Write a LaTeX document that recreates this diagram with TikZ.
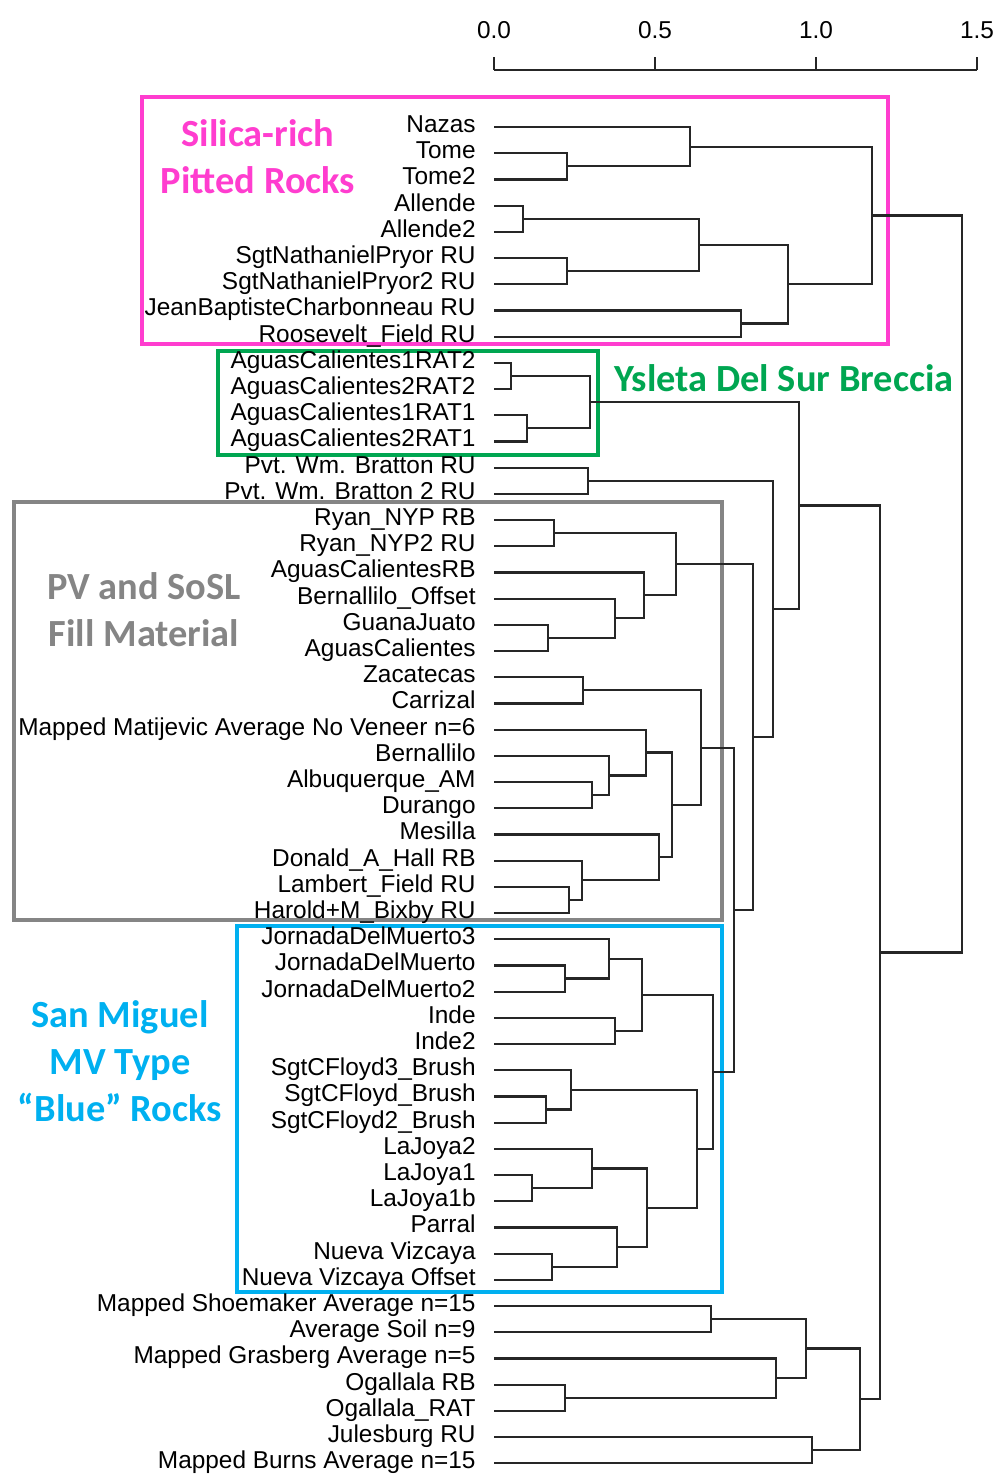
\documentclass[tikz,border=0pt]{standalone}
\usepackage{fontspec}
\setmainfont{Liberation Sans}
\newfontfamily\groupfont{Carlito}
\usetikzlibrary{calc}
\definecolor{silica}{HTML}{FF3DCF}
\definecolor{breccia}{HTML}{00A651}
\definecolor{fillgray}{HTML}{858585}
\definecolor{bluerock}{HTML}{00B0F0}
\tikzset{
    %leaf labels and axis numbers
    leaf/.style={anchor=base east, inner sep=0pt, font=\fontsize{12.2}{14}\selectfont},
    ticklab/.style={anchor=base, inner sep=0pt, font=\fontsize{12.2}{14}\selectfont},
    % tree lines
    branch/.style={draw=black!85, line width=1.1pt},
    % coloured group frames
    groupbox/.style={line width=2.2pt},
    grouplabel/.style={font=\groupfont\bfseries\fontsize{19.2}{23.5}\selectfont, align=center, inner sep=0pt}
}
% merge two children at height #2 (px)
\newcommand{\joinat}[4]{%
  \path let \p1=(#3), \p2=(#4) in ({#2*0.5pt},{0.5*\y1+0.5*\y2}) coordinate (#1);
  \draw[branch] (#3) -| (#1) |- (#4);
}

\begin{document}
\begin{tikzpicture}[x=0.5pt, y=-0.5pt]
\useasboundingbox (0,0) rectangle (998,1474);

% group frames
\draw[groupbox, draw=silica] (142,97) rectangle (888,344);
\draw[groupbox, draw=breccia] (218,351) rectangle (598,455);
\draw[groupbox, draw=fillgray] (14,502) rectangle (722,920);
\draw[groupbox, draw=bluerock] (237,926) rectangle (722,1292);

\node[grouplabel, text=silica] (g1) at (258,157) {Silica-rich\\Pitted Rocks};
\node[grouplabel, text=breccia] (g2) at (784,378) {Ysleta Del Sur Breccia};
\node[grouplabel, text=fillgray] (g3) at (144,610) {PV and SoSL\\Fill Material};
\node[grouplabel, text=bluerock] (g4) at (120,1061) {San Miguel\\MV Type\\“Blue” Rocks};

% axis
\draw[branch] (494,70) -- (977,70);
\foreach \v [count=\k from 0] in {0.0,0.5,1.0,1.5} {
  \node[ticklab] (v\k) at ({494+161*\k},38) {\v};
  \draw[branch] ({494+161*\k},57) -- ({494+161*\k},70);
}

% leaves
\foreach \name [count=\i] in {Nazas, Tome, Tome2, Allende, Allende2,
  SgtNathanielPryor RU, SgtNathanielPryor2 RU, JeanBaptisteCharbonneau RU,
  Roosevelt\_Field RU, AguasCalientes1RAT2, AguasCalientes2RAT2,
  AguasCalientes1RAT1, AguasCalientes2RAT1, Pvt. Wm. Bratton RU,
  Pvt. Wm. Bratton 2 RU, Ryan\_NYP RB, Ryan\_NYP2 RU, AguasCalientesRB,
  Bernallilo\_Offset, GuanaJuato, AguasCalientes, Zacatecas, Carrizal,
  Mapped Matijevic Average No Veneer n=6, Bernallilo, Albuquerque\_AM,
  Durango, Mesilla, Donald\_A\_Hall RB, Lambert\_Field RU,
  Harold+M\_Bixby RU, JornadaDelMuerto3, JornadaDelMuerto,
  JornadaDelMuerto2, Inde, Inde2, SgtCFloyd3\_Brush, SgtCFloyd\_Brush,
  SgtCFloyd2\_Brush, LaJoya2, LaJoya1, LaJoya1b, Parral, Nueva Vizcaya,
  Nueva Vizcaya Offset, Mapped Shoemaker Average n=15, Average Soil n=9,
  Mapped Grasberg Average n=5, Ogallala RB, Ogallala\_RAT, Julesburg RU,
  Mapped Burns Average n=15} {
  \coordinate (l\i) at (494,{127+26.2*(\i-1)});
  \node[leaf] (t\i) at (476,{132.5+26.2*(\i-1)}) {\name};
}

% silica-rich group
\joinat{tt}{567}{l2}{l3}
\joinat{naz}{690}{l1}{tt}
\joinat{all}{522.7}{l4}{l5}
\joinat{sgp}{567}{l6}{l7}
\joinat{alsg}{699}{all}{sgp}
\joinat{jr}{740.7}{l8}{l9}
\joinat{alj}{788}{alsg}{jr}
\joinat{silica}{872.3}{naz}{alj}
% ysleta and bratton
\joinat{rat2}{510.7}{l10}{l11}
\joinat{rat1}{527.3}{l12}{l13}
\joinat{ysleta}{590}{rat2}{rat1}
\joinat{brat}{587.7}{l14}{l15}
% fill material
\joinat{ryan}{554}{l16}{l17}
\joinat{gac}{548.3}{l20}{l21}
\joinat{boff}{615}{l19}{gac}
\joinat{acrb}{644}{l18}{boff}
\joinat{ryac}{675.7}{ryan}{acrb}
\joinat{zac}{583.3}{l22}{l23}
\joinat{ad}{591.7}{l26}{l27}
\joinat{bern}{609.3}{l25}{ad}
\joinat{mat}{646}{l24}{bern}
\joinat{lh}{569.3}{l30}{l31}
\joinat{don}{581.7}{l29}{lh}
\joinat{mes}{659}{l28}{don}
\joinat{matmes}{671.7}{mat}{mes}
\joinat{zacmat}{700.7}{zac}{matmes}
% san miguel
\joinat{jj}{565}{l33}{l34}
\joinat{jor}{609}{l32}{jj}
\joinat{inde}{615}{l35}{l36}
\joinat{jorin}{642.3}{jor}{inde}
\joinat{fl}{546}{l38}{l39}
\joinat{floyd}{571}{l37}{fl}
\joinat{lj}{531.7}{l41}{l42}
\joinat{joya}{592.3}{l40}{lj}
\joinat{nv}{552.3}{l44}{l45}
\joinat{parral}{617.3}{l43}{nv}
\joinat{joypar}{646.7}{joya}{parral}
\joinat{flpar}{696.7}{floyd}{joypar}
\joinat{miguel}{713.3}{jorin}{flpar}
% upper joins
\joinat{fillmig}{734}{zacmat}{miguel}
\joinat{pvall}{753.3}{ryac}{fillmig}
\joinat{bratpv}{773.3}{brat}{pvall}
\joinat{upper}{799}{ysleta}{bratpv}
% mapped averages
\joinat{shoe}{711}{l46}{l47}
\joinat{og}{565}{l49}{l50}
\joinat{gras}{776}{l48}{og}
\joinat{mapped}{805.7}{shoe}{gras}
\joinat{burns}{811.7}{l51}{l52}
\joinat{soil}{860}{mapped}{burns}
\joinat{lower}{880}{upper}{soil}
\joinat{root}{961.7}{silica}{lower}
\end{tikzpicture}
\end{document}
